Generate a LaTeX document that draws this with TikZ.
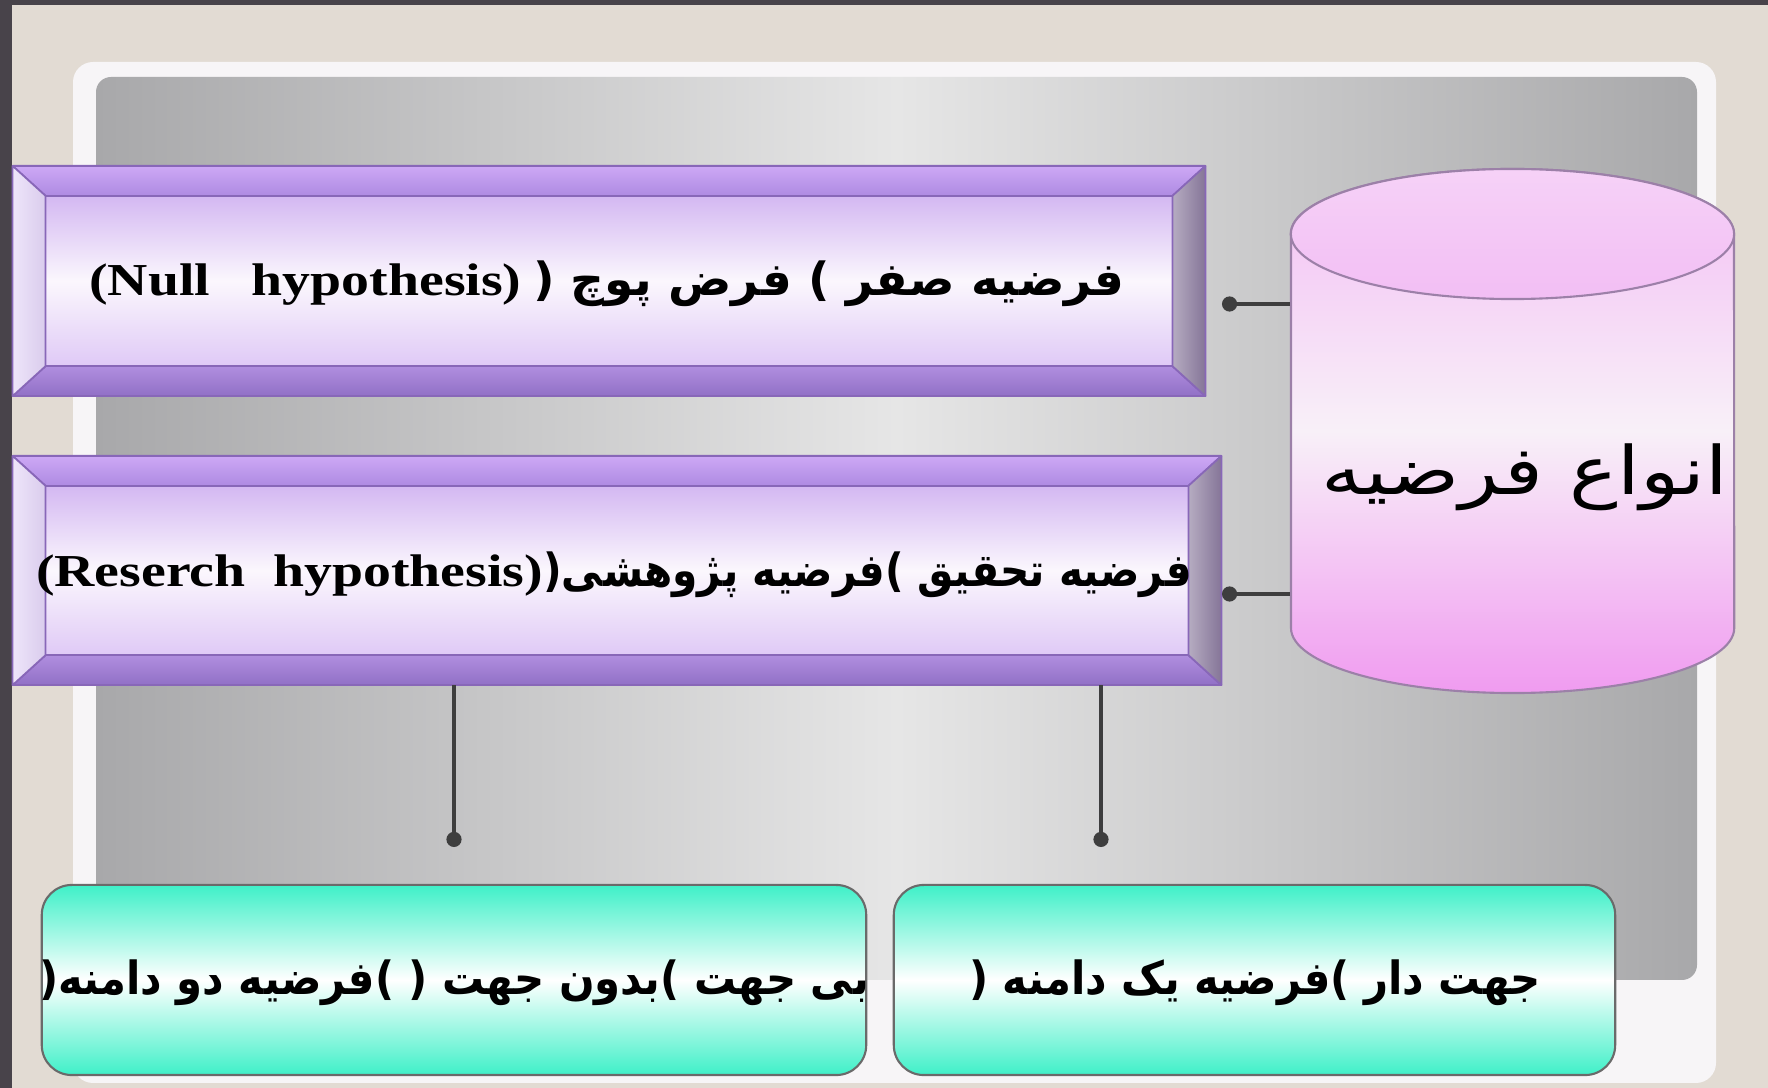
\documentclass[tikz,border=0pt]{standalone}
\usepackage{fontspec}
\usepackage{graphicx}
\usetikzlibrary{arrows.meta}
\setmainfont{Liberation Serif}
\newfontfamily\arabicfont[Script=Arabic]{DejaVu Sans}
\TeXXeTstate=1
\definecolor{bgbeige}{HTML}{E2DBD3}
\definecolor{darkstrip}{HTML}{48434A}
\definecolor{framewhite}{HTML}{F7F5F7}
\definecolor{panelD}{HTML}{A8A8AA}
\definecolor{panelL}{HTML}{E6E6E6}
\definecolor{barline}{HTML}{8867B8}
\definecolor{faceT}{HTML}{C6A2EE}
\definecolor{faceM}{HTML}{FBF7FD}
\definecolor{faceB}{HTML}{D6BAF4}
\definecolor{bevTa}{HTML}{CDA8F5}
\definecolor{bevTb}{HTML}{AE8AE2}
\definecolor{bevBa}{HTML}{B08EDF}
\definecolor{bevBb}{HTML}{9170C6}
\definecolor{bevL}{HTML}{EEE5FA}
\definecolor{bevR}{HTML}{857598}
\definecolor{cylT}{HTML}{F3BDF4}
\definecolor{cylM}{HTML}{F8F0F8}
\definecolor{cylB}{HTML}{F09BF0}
\definecolor{cylTop}{HTML}{F2BEF4}
\definecolor{cylLine}{HTML}{9C80A8}
\definecolor{teal}{HTML}{3FF0C8}
\definecolor{boxline}{HTML}{6A6A6A}
\definecolor{connc}{HTML}{3E3E3E}
\newcommand\xs[1]{\scalebox{1.22}[1]{#1}}
\newcommand\arscale[2]{\scalebox{#1}[1]{\arabicfont #2}}
\newcommand\ro{\hbox{)}}
\newcommand\rc{\hbox{(}}
\newcommand\bevelsof[1]{%
  \coordinate (o1) at (#1.north west);
  \coordinate (o2) at (#1.north east);
  \coordinate (o3) at (#1.south east);
  \coordinate (o4) at (#1.south west);
  \coordinate (i1) at ([shift={(0.33cm,-0.30cm)}]#1.north west);
  \coordinate (i2) at ([shift={(-0.33cm,-0.30cm)}]#1.north east);
  \coordinate (i3) at ([shift={(-0.33cm,0.30cm)}]#1.south east);
  \coordinate (i4) at ([shift={(0.33cm,0.30cm)}]#1.south west);
  \path[bevel, top color=bevTa, bottom color=bevTb] (o1) -- (o2) -- (i2) -- (i1) -- cycle;
  \path[bevel, top color=bevBa, bottom color=bevBb] (o4) -- (o3) -- (i3) -- (i4) -- cycle;
  \path[bevel, left color=bevL, right color=bevL!80!barline] (o1) -- (i1) -- (i4) -- (o4) -- cycle;
  \path[bevel, left color=bevR!60!white, right color=bevR] (o2) -- (i2) -- (i3) -- (o3) -- cycle;
}
\tikzset{
  barface/.style={rectangle, draw=barline, line width=0.6pt, inner sep=0pt,
    top color=faceT, bottom color=faceB, middle color=faceM},
  bevel/.style={draw=barline, line width=0.5pt, line join=round},
  bartext/.style={inner sep=0pt, font=\fontsize{13}{15}\selectfont\bfseries},
  tealbox/.style={rectangle, rounded corners=0.3cm, draw=boxline, line width=0.6pt,
    top color=teal, bottom color=teal, middle color=white, inner sep=0pt},
  boxtext/.style={inner sep=0pt, font=\fontsize{13}{15}\selectfont\bfseries},
  conn/.style={draw=connc, line width=0.9pt, -{Circle[length=4.3pt]}},
}
\begin{document}
\begin{tikzpicture}[x=0.01cm, y=-0.01cm]
\useasboundingbox (0,0) rectangle (1768,1088);
% background
\fill[bgbeige] (0,0) rectangle (1768,1088);
\fill[darkstrip] (0,0) rectangle (12,1088);
\fill[darkstrip] (0,0) rectangle (1768,5);
\fill[framewhite, rounded corners=0.2cm] (73,62) rectangle (1716,1083);
\shade[left color=panelD, right color=panelD, middle color=panelL, rounded corners=0.15cm] (96,77) rectangle (1697,980);

% bar 1
\node[barface, minimum width=11.90cm, minimum height=2.28cm] (b1) at (609,281) {};
\bevelsof{b1}
\node[bartext] (b1t) at (607,284) {\xs{\rmfamily\bfseries(Null\ \ \ hypothesis)}\ \arscale{1.03}{\beginR فرضیه صفر \ro{} فرض پوچ \rc\endR}};

% bar 2
\node[barface, minimum width=12.06cm, minimum height=2.27cm] (b2) at (617,570.5) {};
\bevelsof{b2}
\node[bartext] (b2t) at (614,575) {\xs{\rmfamily\bfseries(Reserch\ \ hypothesis)}\arscale{0.89}{\beginR فرضیه تحقیق \ro فرضیه پژوهشی\rc\endR}};

% cylinder
\node[rectangle, minimum width=4.43cm, minimum height=5.24cm, inner sep=0pt] (cyl) at (1512.5,431) {};
\path[draw=cylLine, line width=0.6pt, top color=cylT, bottom color=cylB, middle color=cylM]
  (1291,234) -- (1291,628) arc[start angle=180, end angle=360, x radius=2.215cm, y radius=0.65cm]
  -- (1734,234) arc[start angle=0, end angle=180, x radius=2.215cm, y radius=0.65cm] -- cycle;
\path[draw=cylLine, line width=0.6pt, top color=cylTop!70!white, bottom color=cylTop]
  (1512.5,234) ellipse[x radius=2.215cm, y radius=0.65cm];
\node[inner sep=0pt, font=\fontsize{19}{21}\selectfont] (cylt) at (1525,477) {\xs{\arabicfont\beginR انواع فرضیه\endR}};

% connectors cylinder -> bars
\coordinate (d1) at (1222,304);
\coordinate (d2) at (1222,594);
\draw[conn] (cyl.west |- d1) -- (d1);
\draw[conn] (cyl.west |- d2) -- (d2);

% vertical connectors
\coordinate (v1) at (454,847);
\coordinate (v2) at (1101,847);
\draw[conn] (v1 |- b2.south) -- (v1);
\draw[conn] (v2 |- b2.south) -- (v2);

% bottom boxes
\node[tealbox, minimum width=8.24cm, minimum height=1.90cm] (bl) at (454,980) {};
\node[boxtext] (blt) at (454,983) {\arscale{0.915}{\beginR بی جهت \ro بدون جهت \rc{} \ro فرضیه دو دامنه\rc\endR}};
\node[tealbox, minimum width=7.21cm, minimum height=1.90cm] (br) at (1254.5,980) {};
\node[boxtext] (brt) at (1255,983) {\arscale{0.915}{\beginR جهت دار \ro فرضیه یک دامنه \rc\endR}};
\end{tikzpicture}
\end{document}
